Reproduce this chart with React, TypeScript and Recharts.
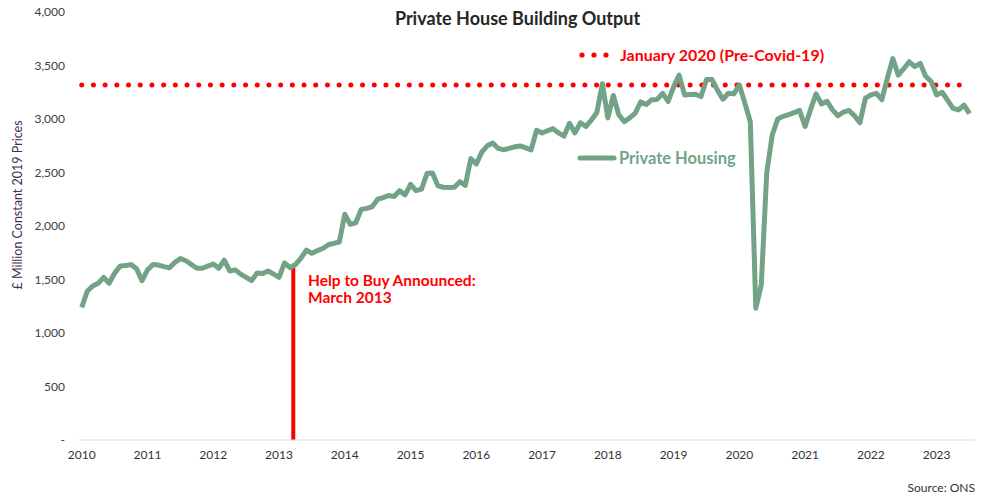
// Private house building output chart (ONS, monthly, £m constant 2019 prices)

import { Line, LineChart, ReferenceLine, XAxis, YAxis } from "recharts";

const FONT = "Lato, 'Open Sans', sans-serif";
const GREEN = "#72A386";
const RED = "#FF0000";

const yearLabels = [
  "2010", "2011", "2012", "2013", "2014", "2015", "2016",
  "2017", "2018", "2019", "2020", "2021", "2022", "2023",
];

// Jan 2010 .. Jul 2023, one value per month
const privateHousing = [
  // 2010
  1240, 1390, 1440, 1465, 1520, 1465, 1560, 1625, 1630, 1640, 1600, 1490,
  // 2011
  1590, 1640, 1635, 1620, 1610, 1660, 1695, 1675, 1640, 1605, 1605, 1625,
  // 2012
  1645, 1605, 1680, 1580, 1590, 1550, 1520, 1490, 1560, 1555, 1580, 1550,
  // 2013
  1520, 1655, 1610, 1640, 1700, 1775, 1745, 1770, 1790, 1825, 1838, 1850,
  // 2014
  2110, 2015, 2030, 2155, 2165, 2180, 2250, 2265, 2285, 2275, 2330, 2290,
  // 2015
  2390, 2330, 2345, 2490, 2495, 2375, 2362, 2360, 2362, 2414, 2380, 2630,
  // 2016
  2580, 2690, 2750, 2775, 2725, 2712, 2725, 2740, 2748, 2730, 2712, 2895,
  // 2017
  2870, 2890, 2910, 2870, 2840, 2960, 2870, 2965, 2930, 2990, 3060, 3330,
  // 2018
  3010, 3220, 3040, 2975, 3010, 3055, 3160, 3135, 3180, 3183, 3240, 3165,
  // 2019
  3300, 3410, 3225, 3230, 3232, 3210, 3370, 3370, 3270, 3185, 3240, 3235,
  // 2020
  3318, 3150, 2975, 1231, 1450, 2500, 2850, 3000, 3025, 3040, 3060, 3080,
  // 2021
  2930, 3090, 3235, 3140, 3165, 3085, 3030, 3065, 3080, 3030, 2965, 3195,
  // 2022
  3225, 3240, 3180, 3380, 3565, 3410, 3470, 3535, 3490, 3520, 3400, 3350,
  // 2023
  3225, 3250, 3175, 3100, 3085, 3130, 3050,
];

const yTicks = [0, 500, 1000, 1500, 2000, 2500, 3000, 3500, 4000];

const helpToBuyIndex = 38; // March 2013
const preCovidIndex = 120; // January 2020
const preCovidLevel = privateHousing[preCovidIndex];

const data = privateHousing.map((value, i) => ({ t: i, value }));
const xTicks = yearLabels.map((_, k) => k * 12);

export default function App() {
  return (
    <div style={{ position: "absolute", left: 0, top: 0, width: 982, height: 498, background: "#fff", fontFamily: FONT }}>
      <LineChart width={982} height={498} data={data} margin={{ top: 12, right: 7, left: 19, bottom: 28 }}>
        <XAxis
          dataKey="t"
          type="number"
          domain={[-0.5, 163]}
          ticks={xTicks}
          tickFormatter={(t) => yearLabels[Math.round(t / 12)]}
          axisLine={{ stroke: "#d9d9d9", strokeWidth: 1 }}
          tickLine={false}
          tickSize={0}
          tickMargin={10}
          height={30}
          tick={{ fontSize: 12, fill: "#333", fontFamily: FONT }}
        />
        <YAxis
          type="number"
          domain={[0, 4000]}
          ticks={yTicks}
          tickFormatter={(v) => (v === 0 ? "-" : Number(v).toLocaleString("en-US"))}
          axisLine={false}
          tickLine={false}
          tickSize={0}
          tickMargin={14}
          width={60}
          tick={{ fontSize: 12, fill: "#404040", fontFamily: FONT }}
        />
        <ReferenceLine
          segment={[
            { x: helpToBuyIndex + 0.6, y: 0 },
            { x: helpToBuyIndex + 0.6, y: privateHousing[helpToBuyIndex] },
          ]}
          stroke={RED}
          strokeWidth={4}
        />
        <ReferenceLine
          segment={[
            { x: 0, y: preCovidLevel },
            { x: privateHousing.length - 2, y: preCovidLevel },
          ]}
          stroke={RED}
          strokeWidth={5}
          strokeLinecap="round"
          strokeDasharray="0 11.7"
        />
        <Line
          type="linear"
          dataKey="value"
          stroke={GREEN}
          strokeWidth={5}
          strokeLinejoin="round"
          dot={false}
          activeDot={false}
          isAnimationActive={false}
          name="Private Housing"
        />
      </LineChart>

      <div style={{ position: "absolute", left: 0, width: 1035, top: 7, textAlign: "center", fontSize: 18, fontWeight: 700, color: "#262626" }}>
        Private House Building Output
      </div>

      <div
        style={{
          position: "absolute",
          left: 17,
          top: 205,
          transform: "translate(-50%, -50%) rotate(-90deg)",
          whiteSpace: "nowrap",
          fontSize: 12.5,
          color: "#3F3151",
        }}
      >
        £ Million Constant 2019 Prices
      </div>

      <div style={{ position: "absolute", left: 577, top: 148, display: "flex", alignItems: "center", fontWeight: 700, fontSize: 16.5, color: GREEN }}>
        <svg width={40} height={10}>
          <line x1={3} y1={5} x2={37} y2={5} stroke={GREEN} strokeWidth={5} strokeLinecap="round" />
        </svg>
        <span style={{ marginLeft: 2 }}>Private Housing</span>
      </div>

      <div style={{ position: "absolute", left: 576, top: 45, display: "flex", alignItems: "center", color: RED, fontWeight: 700, fontSize: 16, whiteSpace: "nowrap" }}>
        <svg width={40} height={10}>
          {[0, 1, 2].map((k) => (
            <circle key={k} cx={6 + k * 12} cy={5} r={2.6} fill={RED} />
          ))}
        </svg>
        <span style={{ marginLeft: 4 }}>January 2020 (Pre-Covid-19)</span>
      </div>

      <div style={{ position: "absolute", left: 308, top: 272, color: RED, fontWeight: 700, fontSize: 15.5, lineHeight: "17px", whiteSpace: "nowrap" }}>
        Help to Buy Announced:
        <br />
        March 2013
      </div>

      <div style={{ position: "absolute", right: 7, top: 480, fontSize: 12, color: "#333" }}>Source: ONS</div>
    </div>
  );
}
